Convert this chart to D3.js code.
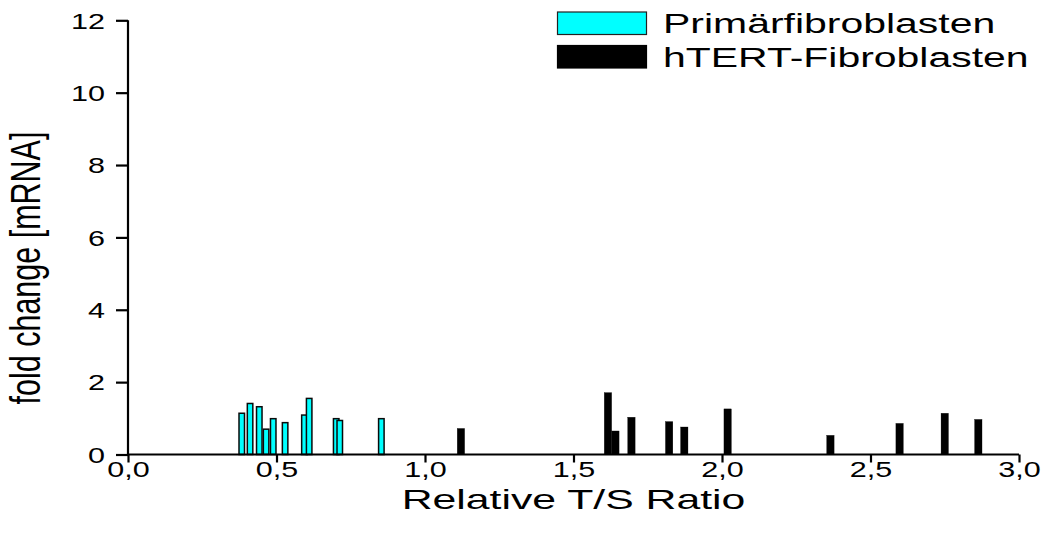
<!DOCTYPE html>
<html>
<head>
<meta charset="utf-8">
<script src="https://cdn.jsdelivr.net/npm/d3@7"></script>
<style>
  html, body { margin: 0; padding: 0; background: #fff; }
  svg { display: block; }
  text { font-family: "Liberation Sans", Arial, sans-serif; fill: #000; }
</style>
</head>
<body>
<svg id="chart" width="1046" height="534"></svg>
<script>
// Relative T/S ratio (x) and mRNA fold change (y) per sample
const primaerX = [0.383, 0.411, 0.442, 0.465, 0.489, 0.529, 0.594, 0.610, 0.701, 0.713, 0.853];
const primaerY = [1.14, 1.41, 1.32, 0.70, 0.99, 0.88, 1.09, 1.55, 0.99, 0.94, 0.99];
const htertX = [1.121, 1.616, 1.641, 1.695, 1.822, 1.873, 2.019, 2.365, 2.598, 2.750, 2.863];
const htertY = [0.72, 1.71, 0.65, 1.03, 0.91, 0.76, 1.26, 0.53, 0.86, 1.14, 0.97];

const seriesNames = ["Primärfibroblasten", "hTERT-Fibroblasten"];
const xMajorTicks = [0, 0.5, 1.0, 1.5, 2.0, 2.5, 3.0];
const xMinorTicks = [0.25, 0.75, 1.25, 1.75, 2.25, 2.75];
const yMajorTicks = [0, 2, 4, 6, 8, 10, 12];
const yMinorTicks = [1, 3, 5, 7, 9, 11];
const xTitle = "Relative T/S Ratio";
const yTitle = "fold change [mRNA]";

const SX = 1.5;      // horizontal glyph stretch for titles and legend
const SX_TICK = 1.42; // horizontal glyph stretch for tick labels
const svg = d3.select("#chart");

const x = d3.scaleLinear().domain([0, 3]).range([128, 1019]);
const y = d3.scaleLinear().domain([0, 12]).range([454.5, 20.3]);
const fmt = d => d3.format(".1f")(d).replace(".", ",");

// bars
function drawBars(xs, ys, width, fill, stroke, sw) {
  const data = xs.map((v, i) => ({ x: v, y: ys[i] }));
  svg.append("g").selectAll("rect").data(data).join("rect")
    .attr("x", d => x(d.x) - width / 2)
    .attr("y", d => y(d.y))
    .attr("width", width)
    .attr("height", d => y(0) - y(d.y))
    .attr("fill", fill)
    .attr("stroke", stroke)
    .attr("stroke-width", sw);
}
drawBars(primaerX, primaerY, 5.5, "#00ffff", "#0a0a0a", 1.5);
drawBars(htertX, htertY, 7.4, "#000", "#000", 0.3);

// x axis
const gx = svg.append("g").attr("transform", `translate(0,${y(0)})`);
gx.call(d3.axisBottom(x).tickValues(xMinorTicks).tickSize(4).tickFormat(""));
gx.call(d3.axisBottom(x).tickValues(xMajorTicks).tickSize(8).tickPadding(-1).tickFormat(fmt));
gx.selectAll(".domain").attr("stroke-width", 2.2).attr("d", `M${x(0)},0H${x(3)}`);
gx.selectAll(".tick line").attr("stroke-width", 2.2);
gx.selectAll(".tick text")
  .attr("font-size", 21.5).attr("dy", "0.71em")
  .attr("transform", `scale(${SX_TICK},1)`);

// y axis
const gy = svg.append("g").attr("transform", `translate(${x(0)},0)`);
gy.call(d3.axisLeft(y).tickValues(yMinorTicks).tickSize(6).tickFormat(""));
gy.call(d3.axisLeft(y).tickValues(yMajorTicks).tickSize(12).tickFormat(d => d));
gy.selectAll(".domain").attr("stroke-width", 2.2).attr("d", `M0,${y(0)}V${y(12)}`);
gy.selectAll(".tick line").attr("stroke-width", 2.2);
gy.selectAll(".tick text")
  .attr("font-size", 21.5)
  .attr("x", -23 / SX_TICK)
  .attr("dy", "0.36em")
  .attr("transform", `scale(${SX_TICK},1)`);

// axis titles
svg.append("text")
  .attr("transform", `translate(${(x(0) + x(3)) / 2},508.5) scale(${SX},1)`)
  .attr("text-anchor", "middle")
  .attr("font-size", 28.5)
  .text(xTitle);

svg.append("text")
  .attr("transform", `translate(40,268) scale(1.4,1) rotate(-90)`)
  .attr("text-anchor", "middle")
  .attr("font-size", 30.5)
  .text(yTitle);

// legend
const legend = svg.append("g");
const swatches = [
  { fill: "#00ffff", stroke: "#222", y: 12 },
  { fill: "#000", stroke: "#000", y: 45.5 }
];
swatches.forEach((s, i) => {
  legend.append("rect")
    .attr("x", 557.5).attr("y", s.y)
    .attr("width", 89).attr("height", 22.5)
    .attr("fill", s.fill).attr("stroke", s.stroke).attr("stroke-width", 1.2);
  legend.append("text")
    .attr("transform", `translate(663,${s.y + 21.3}) scale(${SX},1)`)
    .attr("font-size", 27.3)
    .text(seriesNames[i]);
});
</script>
</body>
</html>
